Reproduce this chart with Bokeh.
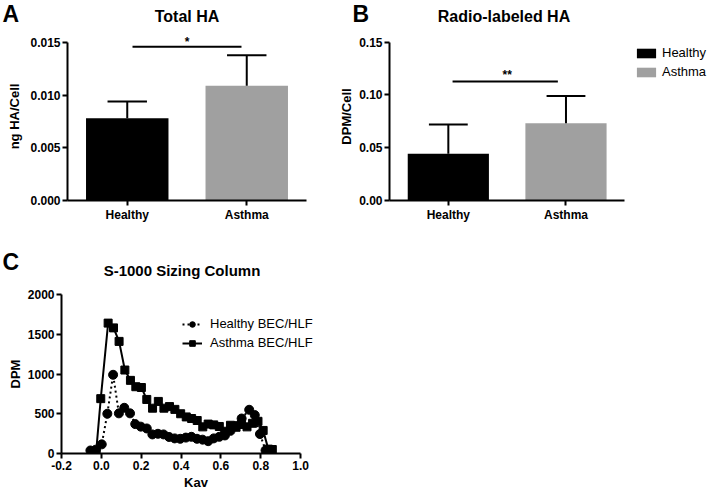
from bokeh.plotting import figure
from bokeh.models import Range1d, FixedTicker, Label, NumeralTickFormatter, ColumnDataSource
from bokeh.layouts import column, row
from bokeh.embed import file_html
from bokeh.resources import INLINE

# ---------------- data ----------------
groups = ["Healthy", "Asthma"]
group_x = [1, 2]
bar_colors = ["#000000", "#a0a0a0"]

total_ha_mean = [0.0078, 0.0109]
total_ha_sem = [0.0016, 0.0029]
total_ha_sig_y = 0.0146
total_ha_sig_text = "*"

radio_ha_mean = [0.0442, 0.0733]
radio_ha_sem = [0.0278, 0.0257]
radio_ha_sig_y = 0.1128
radio_ha_sig_text = "**"

kav_healthy = [-0.055, -0.028, 0.002, 0.030, 0.059, 0.088, 0.115, 0.144, 0.170, 0.198,
               0.228, 0.256, 0.284, 0.312, 0.340, 0.368, 0.396, 0.424, 0.452, 0.480,
               0.508, 0.536, 0.564, 0.592, 0.620, 0.648, 0.676, 0.704, 0.742, 0.770,
               0.796, 0.824]
dpm_healthy = [38, 48, 115, 500, 990, 505, 575, 505, 370, 338,
               315, 240, 248, 240, 208, 190, 185, 200, 210, 185,
               174, 155, 190, 210, 227, 285, 345, 440, 550, 483,
               245, 40]

kav_asthma = [-0.026, -0.003, 0.034, 0.061, 0.089, 0.118, 0.146, 0.173, 0.201, 0.228,
              0.257, 0.286, 0.314, 0.342, 0.369, 0.398, 0.426, 0.453, 0.481, 0.509,
              0.536, 0.564, 0.592, 0.619, 0.648, 0.676, 0.703, 0.731, 0.759, 0.786,
              0.812, 0.838, 0.858]
dpm_asthma = [20, 690, 1640, 1580, 1410, 1050, 920, 840, 830, 680,
              570, 655, 570, 590, 555, 500, 460, 440, 415, 335,
              370, 360, 340, 280, 355, 330, 365, 335, 380, 405,
              290, 55, 50]

a_yticks = [0, 0.005, 0.010, 0.015]
b_yticks = [0, 0.05, 0.10, 0.15]
c_xticks = [-0.2, 0.0, 0.2, 0.4, 0.6, 0.8, 1.0]
c_yticks = [0, 500, 1000, 1500, 2000]

FONT = "Liberation Sans"


def style(p, label_standoff=4):
    p.outline_line_color = None
    p.xgrid.visible = False
    p.ygrid.visible = False
    for ax in p.axis:
        ax.axis_line_width = 2
        ax.axis_line_color = "black"
        ax.major_tick_line_width = 2
        ax.major_tick_line_color = "black"
        ax.major_tick_out = 5
        ax.major_tick_in = 0
        ax.minor_tick_line_color = None
        ax.major_label_text_font = FONT
        ax.major_label_text_font_style = "bold"
        ax.major_label_text_font_size = "12px"
        ax.major_label_text_color = "black"
        ax.major_label_standoff = 2
        ax.axis_label_text_font = FONT
        ax.axis_label_text_font_style = "bold"
        ax.axis_label_text_font_size = "13px"
        ax.axis_label_text_color = "black"
        ax.axis_label_standoff = label_standoff


def lab(p, x, y, text, size, align="center", baseline="alphabetic", style_="bold"):
    p.add_layout(Label(x=x, y=y, text=text, text_font=FONT, text_font_size=size,
                       text_font_style=style_, text_align=align, text_baseline=baseline,
                       text_color="black"))


def strip(width, height):
    s = figure(width=width, height=height, x_range=Range1d(0, width), y_range=Range1d(height, 0),
               x_axis_type=None, y_axis_type=None, min_border_left=0, min_border_right=0,
               min_border_top=0, min_border_bottom=0, output_backend="svg",
               toolbar_location=None, frame_align=False)
    s.outline_line_color = None
    return s


# ---------------- headings of the top row ----------------
top = strip(708, 32)
lab(top, 2, 13, "A", "23px", align="left")
lab(top, 186.5, 15.7, "Total HA", "16px")
lab(top, 352, 13, "B", "23px", align="left")
lab(top, 503.5, 15.7, "Radio-labeled HA", "16px")


def bar_panel(width, xmax, mleft, mright, means, sems, ylabel, ymax, ytop, yticks, fmt,
              sig_y, sig_text, sig_dy, sig_x0, sig_x1, label_standoff, legend=False):
    p = figure(width=width, height=198, x_range=Range1d(0.5, xmax), y_range=Range1d(0, ytop),
               min_border_left=mleft, min_border_right=mright, min_border_top=0,
               min_border_bottom=30, output_backend="svg", toolbar_location=None,
               frame_align=False)
    tops = [m + s for m, s in zip(means, sems)]
    src = ColumnDataSource(dict(x=group_x, mean=means, top=tops, color=bar_colors,
                                group=groups,
                                c0=[x - 0.165 for x in group_x], c1=[x + 0.165 for x in group_x]))
    if legend:
        p.vbar(x="x", top="mean", width=0.69, fill_color="color", line_color=None,
               source=src, legend_field="group")
    else:
        p.vbar(x="x", top="mean", width=0.69, fill_color="color", line_color=None, source=src)
    p.segment(x0="x", y0="mean", x1="x", y1="top", line_color="black", line_width=2, source=src)
    p.segment(x0="c0", y0="top", x1="c1", y1="top", line_color="black", line_width=2, source=src)
    p.segment(x0=[sig_x0], y0=[sig_y], x1=[sig_x1], y1=[sig_y], line_color="black", line_width=2)
    lab(p, 1.5, sig_y + sig_dy, sig_text, "12px")
    style(p, label_standoff=label_standoff)
    p.xaxis.ticker = FixedTicker(ticks=group_x)
    p.xaxis.major_label_overrides = {x: g for x, g in zip(group_x, groups)}
    p.xaxis.bounds = (0.5, 2.5)
    p.yaxis.ticker = FixedTicker(ticks=yticks)
    p.yaxis.formatter = NumeralTickFormatter(format=fmt)
    p.yaxis.bounds = (0, ymax)
    p.yaxis.axis_label = ylabel
    if legend:
        leg = p.legend[0]
        leg.location = (245, 121)
        leg.padding = 0
        leg.margin = 0
        leg.border_line_color = None
        leg.background_fill_alpha = 0
        leg.label_text_font = FONT
        leg.label_text_font_size = "13px"
        leg.label_text_color = "black"
        leg.glyph_width = 24
        leg.glyph_height = 12
        leg.label_height = 15
        leg.spacing = 4
        leg.label_standoff = 4
    return p


pA = bar_panel(336, 2.5, 67, 30, total_ha_mean, total_ha_sem, "ng HA/Cell", 0.015,
               0.015 * 168 / 158, a_yticks, "0.000", total_ha_sig_y, total_ha_sig_text, 0.00043,
               1.044, 1.956, 5)
pB = bar_panel(372, 0.5 + 324 / 119.5, 48, 0, radio_ha_mean, radio_ha_sem, "DPM/Cell", 0.15,
               0.15 * 168 / 158.3, b_yticks, "0.00", radio_ha_sig_y, radio_ha_sig_text, 0.0064,
               1.036, 1.931, 2, legend=True)

# ---------------- heading of panel C ----------------
midc = strip(330, 50)
lab(midc, 2, 31.7, "C", "23px", align="left")
lab(midc, 181.5, 39.5, "S-1000 Sizing Column", "15px")

# ---------------- panel C ----------------
pC = figure(width=330, height=212, x_range=Range1d(-0.2, 1.15), y_range=Range1d(0, 2000),
            min_border_left=61, min_border_right=0, min_border_top=14, min_border_bottom=38,
            output_backend="svg", toolbar_location=None, frame_align=False)
pC.line(kav_healthy, dpm_healthy, line_color="black", line_width=2, line_dash="2 3",
        legend_label="Healthy BEC/HLF")
pC.scatter(kav_healthy, dpm_healthy, marker="circle", size=9, fill_color="black",
           line_color="black", legend_label="Healthy BEC/HLF")
pC.line(kav_asthma, dpm_asthma, line_color="black", line_width=2, legend_label="Asthma BEC/HLF")
pC.scatter(kav_asthma, dpm_asthma, marker="square", size=8, fill_color="black",
           line_color="black", legend_label="Asthma BEC/HLF")
style(pC, label_standoff=2)
pC.xaxis.ticker = FixedTicker(ticks=c_xticks)
pC.xaxis.formatter = NumeralTickFormatter(format="0.0")
pC.xaxis.bounds = (-0.2, 1.0)
pC.yaxis.ticker = FixedTicker(ticks=c_yticks)
pC.yaxis.formatter = NumeralTickFormatter(format="0")
pC.yaxis.bounds = (0, 2000)
pC.xaxis.axis_label = "Kav"
pC.yaxis.axis_label = "DPM"
legC = pC.legend[0]
legC.location = (121, 103)
legC.padding = 0
legC.margin = 0
legC.border_line_color = None
legC.background_fill_alpha = 0
legC.label_text_font = FONT
legC.label_text_font_size = "13px"
legC.label_text_color = "black"
legC.glyph_width = 20
legC.glyph_height = 14
legC.label_height = 14
legC.spacing = 4
legC.label_standoff = 8

layout = column(top, row(pA, pB), midc, pC)
open("out.html", "w").write(file_html(layout, INLINE))
